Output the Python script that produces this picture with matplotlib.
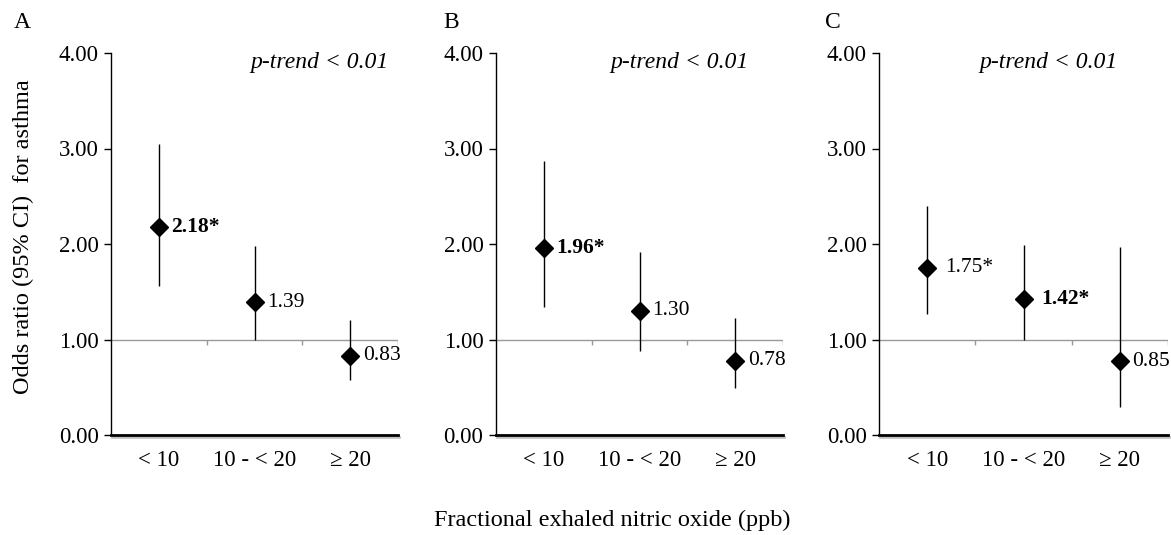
import matplotlib
matplotlib.use("Agg")
import matplotlib.pyplot as plt
import matplotlib.patheffects as pe

plt.rcParams['font.family'] = ['Liberation Serif', 'DejaVu Serif']

categories = ["< 10", "10 - < 20", "\u2265 20"]
panels = ["A", "B", "C"]

# odds ratio (diamond position), lower and upper 95% CI for each panel
or_a = [2.18, 1.39, 0.83]
lo_a = [1.56, 1.00, 0.58]
hi_a = [3.05, 1.98, 1.20]

or_b = [1.96, 1.30, 0.78]
lo_b = [1.34, 0.88, 0.49]
hi_b = [2.87, 1.92, 1.22]

or_c = [1.75, 1.42, 0.77]
lo_c = [1.27, 1.00, 0.29]
hi_c = [2.40, 1.99, 1.97]

labels_a = ["2.18*", "1.39", "0.83"]
labels_b = ["1.96*", "1.30", "0.78"]
labels_c = ["1.75*", "1.42*", "0.85"]

bold_a = [True, False, False]
bold_b = [True, False, False]
bold_c = [False, True, False]

ptrend = "p-trend < 0.01"

W, H = 1171, 535
fig = plt.figure(figsize=(W / 100, H / 100), dpi=100)

# pixel boxes for the axes: left, right, top, bottom
boxes = [(111, 398, 53, 435), (496, 783, 53, 435), (879, 1168, 53, 435)]
letter_x = [14, 443, 825]
ptrend_x = [0.728, 0.638, 0.585]
label_off = [[9, 9, 9], [9, 9, 9], [13, 13, 9]]

data = [
    (or_a, lo_a, hi_a, labels_a, bold_a),
    (or_b, lo_b, hi_b, labels_b, bold_b),
    (or_c, lo_c, hi_c, labels_c, bold_c),
]

for i, (ors, los, his, labs, bolds) in enumerate(data):
    l, r, t, b = boxes[i]
    ax = fig.add_axes([l / W, (H - b) / H, (r - l) / W, (b - t) / H])
    x = list(range(1, len(categories) + 1))

    ax.set_xlim(0.5, len(categories) + 0.5)
    ax.set_ylim(0, 4)

    # reference line at OR = 1 with category separators
    ax.axhline(1.0, color="#999999", lw=1.0, zorder=1)
    seps = [k + 0.5 for k in x]
    ax.vlines(seps, 0.94, 1.0, color="#999999", lw=1.0, zorder=1)

    ax.vlines(x, los, his, color="black", lw=1.0, zorder=2)
    ax.plot(x, ors, linestyle="none", marker="D", ms=9, color="black", zorder=3)

    for xi, yi, lab, bd, off in zip(x, ors, labs, bolds, label_off[i]):
        ax.annotate(lab, (xi, yi), xytext=(off, 0), textcoords="offset points",
                    ha="left", va="center", fontsize=15.5,
                    fontweight="bold" if bd else "normal", annotation_clip=False)

    ax.set_yticks([0, 1, 2, 3, 4])
    ax.set_yticklabels(["%.2f" % v for v in [0, 1, 2, 3, 4]], fontsize=16.5)
    ax.set_xticks(x)
    ax.set_xticklabels(categories, fontsize=16.5)
    ax.tick_params(axis="x", length=0, pad=11)
    ax.tick_params(axis="y", length=5, width=1, pad=4, direction="out")

    for s in ["top", "right"]:
        ax.spines[s].set_visible(False)
    ax.spines["left"].set_linewidth(1.0)
    ax.spines["bottom"].set_linewidth(2.0)
    ax.spines["bottom"].set_path_effects([
        pe.SimpleLineShadow(offset=(0.5, -1.5), shadow_color="#888888", alpha=0.5),
        pe.Normal()])

    ax.text(ptrend_x[i], 0.975, ptrend, transform=ax.transAxes, ha="center", va="center",
            fontsize=17, style="italic")

    fig.text(letter_x[i] / W, 1 - 22 / H, panels[i], fontsize=17, ha="left", va="center")

    if i == 0:
        ax.set_ylabel("Odds ratio (95% CI)  for asthma", fontsize=17.5)
        ax.yaxis.set_label_coords((34 - l) / (r - l), (b - 237) / (b - t))

fig.text(612 / W, 1 - 520 / H, "Fractional exhaled nitric oxide (ppb)", fontsize=17.5,
         ha="center", va="center")

fig.savefig("out.png", dpi=100, facecolor="white")
